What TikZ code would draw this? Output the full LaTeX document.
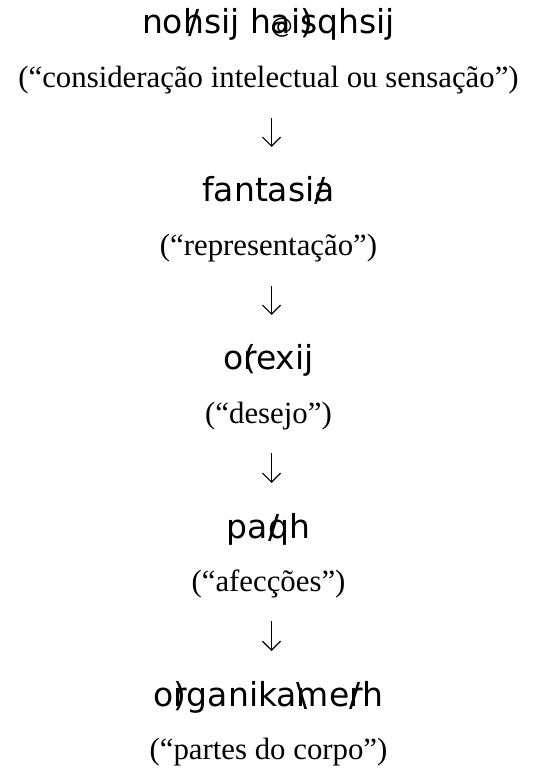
\documentclass[tikz,border=0pt]{standalone}
\usepackage{fontspec}
\setmainfont{Liberation Serif}
\newfontfamily\termfont{DejaVu Sans}
\usetikzlibrary{arrows.meta}
% accent glyph struck over the next letter
\newcommand{\ovr}[2]{\rlap{#1}#2}

\begin{document}
\begin{tikzpicture}[x=0.5pt, y=-0.5pt,
    term/.style={anchor=base, inner sep=0pt, font=\termfont\fontsize{16.5}{19}\selectfont},
    gloss/.style={anchor=base, inner sep=0pt, font=\fontsize{15.4}{18}\selectfont},
    seta/.style={line width=0.6pt, -{Straight Barb[length=4.5pt, width=9pt]},
        shorten <=15pt, shorten >=27.5pt}]
    \useasboundingbox (0,0) rectangle (537,769);

    % terms and their glosses
    \node[term]  (t1) at (268.5,34)  {no\ovr{\,/}{h}sij h\ovr{\fontsize{11}{11}\selectfont @}{a}i\ovr{)}{s}qhsij};
    \node[gloss] (c1) at (268.5,88)  {(“consideração intelectual ou sensação”)};
    \node[term]  (t2) at (268.5,202) {fantasi\ovr{/}{a}};
    \node[gloss] (c2) at (268.5,256) {(“representação”)};
    \node[term]  (t3) at (268.5,370) {o\ovr{(}{r}exij};
    \node[gloss] (c3) at (268.5,423) {(“desejo”)};
    \node[term]  (t4) at (268.5,538) {pa\ovr{/}{q}h};
    \node[gloss] (c4) at (268.5,591) {(“afecções”)};
    \node[term]  (t5) at (268.5,706) {o\ovr{)}{r}ganika\ovr{\textbackslash}{m}e\ovr{/}{r}h};
    \node[gloss] (c5) at (268.5,759) {(“partes do corpo”)};

    % arrows down the chain
    \foreach \a/\b in {c1/t2, c2/t3, c3/t4, c4/t5}
        \draw[seta] ([xshift=1.5pt]\a.base) -- ([xshift=1.5pt]\b.base);
\end{tikzpicture}
\end{document}
